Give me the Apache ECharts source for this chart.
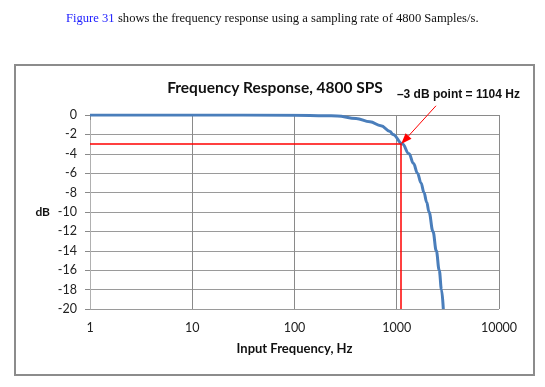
<!DOCTYPE html>
<html>
<head>
<meta charset="utf-8">
<script src="https://cdn.jsdelivr.net/npm/echarts@6/dist/echarts.min.js"></script>
<style>
html,body{margin:0;padding:0;background:#fff;}
#c{width:545px;height:387px;}
</style>
</head>
<body>
<div id="c"></div>
<script>
// ---- data ----
var freqHz = [1, 10, 100, 200, 261, 400, 547, 700, 859, 919, 1138, 1318, 1458, 1596, 1727, 1848, 1964, 2067, 2261, 2437, 2602, 2740, 2853];
var gainDb = [0, 0, -0.02, -0.07, -0.1, -0.35, -0.7, -1.1, -1.7, -2.0, -3.0, -4.0, -5.0, -6.0, -7.0, -8.0, -9.0, -10.0, -12.0, -14.0, -16.0, -18.0, -20.0];
var xTicks = [1, 10, 100, 1000, 10000];
var yTicks = [0, -2, -4, -6, -8, -10, -12, -14, -16, -18, -20];
var cutoffHz = 1104;
var cutoffDb = -3;
var arrowTail = [2420, 0.95];   // data coords of arrow start (under the label)
var labelAnchor = [1003, 2.05]; // data coords of label left-middle

var FONT = 'Lato, "Open Sans", sans-serif';
var chart = echarts.init(document.getElementById('c'), null, {renderer: 'canvas'});

var series = freqHz.map(function (f, i) { return [f, gainDb[i]]; });

chart.setOption({
  animation: false,
  backgroundColor: '#fff',
  title: {
    text: 'Frequency Response, 4800 SPS',
    left: 270, top: 75, textAlign: 'center',
    textStyle: {fontFamily: FONT, fontWeight: 'bold', fontSize: 15.5, color: '#111'}
  },
  grid: {left: 90, top: 115, width: 409, height: 194},
  xAxis: {
    type: 'log', logBase: 10, min: xTicks[0], max: xTicks[xTicks.length - 1],
    name: 'Input Frequency, Hz', nameLocation: 'middle', nameGap: 33,
    nameTextStyle: {fontFamily: FONT, fontWeight: 'bold', fontSize: 13, color: '#111'},
    axisLine: {show: true, lineStyle: {color: '#8a8a8a', width: 1}},
    axisTick: {show: true, length: 5, lineStyle: {color: '#8a8a8a'}},
    minorTick: {show: false},
    splitLine: {show: true, lineStyle: {color: '#8a8a8a', width: 1}},
    axisLabel: {fontFamily: FONT, fontSize: 12.5, color: '#222', margin: 12,
      formatter: function (v) { return String(Math.round(v)); }}
  },
  yAxis: {
    type: 'value', min: yTicks[yTicks.length - 1], max: yTicks[0], interval: 2,
    name: 'dB', nameLocation: 'middle', nameRotate: 0, nameGap: 40,
    nameTextStyle: {fontFamily: FONT, fontWeight: 'bold', fontSize: 12, color: '#111', align: 'right'},
    axisLine: {show: true, lineStyle: {color: '#b0b0b0', width: 1}},
    axisTick: {show: true, length: 5, lineStyle: {color: '#8a8a8a'}},
    splitLine: {show: true, lineStyle: {color: '#9a9a9a', width: 1}},
    axisLabel: {fontFamily: FONT, fontSize: 12.5, color: '#222', margin: 13}
  },
  series: [{
    type: 'line',
    data: series,
    smooth: 0.4,
    smoothMonotone: 'x',
    showSymbol: false,
    z: 3,
    lineStyle: {color: '#4a7ebb', width: 3},
    markLine: {
      silent: true, symbol: 'none', animation: false,
      label: {show: false},
      lineStyle: {color: '#ff0000', width: 1.5, type: 'solid'},
      data: [
        [{coord: [xTicks[0], cutoffDb]}, {coord: [cutoffHz, cutoffDb]}],
        [{coord: [cutoffHz, cutoffDb]}, {coord: [cutoffHz, yTicks[yTicks.length - 1]]}]
      ]
    }
  }]
});

// annotation and frame, positioned through the chart's own scales
var tail = chart.convertToPixel({gridIndex: 0}, arrowTail);
var head = chart.convertToPixel({gridIndex: 0}, [cutoffHz, cutoffDb]);
var lab = chart.convertToPixel({gridIndex: 0}, labelAnchor);
var dx = head[0] - tail[0], dy = head[1] - tail[1];
var len = Math.sqrt(dx * dx + dy * dy);
var ux = dx / len, uy = dy / len;
var aL = 11, aW = 4;
var base = [head[0] - ux * aL, head[1] - uy * aL];
var p1 = [base[0] - uy * aW, base[1] + ux * aW];
var p2 = [base[0] + uy * aW, base[1] - ux * aW];

chart.setOption({
  graphic: [
    {type: 'rect', z: -10, silent: true,
      shape: {x: 15, y: 65, width: 519, height: 310},
      style: {fill: '#fff', stroke: '#8c8c8c', lineWidth: 2}},
    {type: 'text', left: 66, top: 12, silent: true,
      style: {
        text: '{a|Figure 31} {b|shows the frequency response using a sampling rate of 4800 Samples/s.}',
        rich: {
          a: {fill: '#2020ff', fontFamily: '"Liberation Serif", serif', fontSize: 12.6},
          b: {fill: '#111', fontFamily: '"Liberation Serif", serif', fontSize: 12.6}
        }
      }},
    {type: 'text', x: lab[0], y: lab[1], silent: true,
      style: {text: '\u20133 dB point = 1104 Hz', fill: '#111',
        fontFamily: '"Liberation Sans", Arial, sans-serif', fontWeight: 'bold', fontSize: 12,
        verticalAlign: 'middle', align: 'left'}},
    {type: 'line', silent: true, z: 10,
      shape: {x1: tail[0], y1: tail[1], x2: base[0], y2: base[1]},
      style: {stroke: '#ff0000', lineWidth: 1}},
    {type: 'polygon', silent: true, z: 10,
      shape: {points: [head, p1, p2]},
      style: {fill: '#ff0000'}}
  ]
});
</script>
</body>
</html>
